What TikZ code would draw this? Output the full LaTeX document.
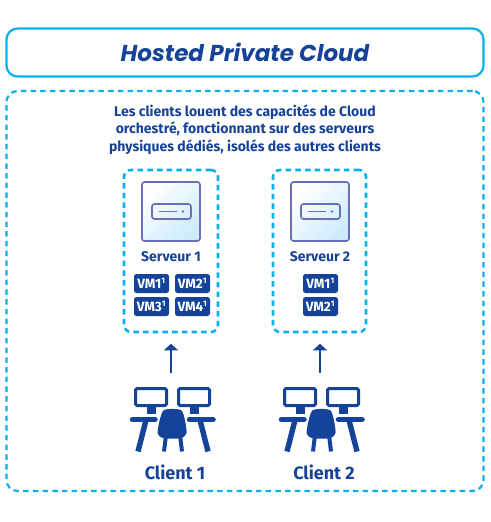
\documentclass[tikz,border=0pt]{standalone}
\usepackage{fontspec}
\setmainfont{Fira Sans}
\newfontfamily\titlefont{Poppins}
\usetikzlibrary{arrows.meta}
\definecolor{navy}{HTML}{16439A}
\definecolor{sky}{HTML}{08B0EE}
\definecolor{violet}{HTML}{6A70B8}
\definecolor{pale}{HTML}{CDEBFD}
\tikzset{
  dashbox/.style={draw=sky,line width=2.6pt,rounded corners=7pt,dash pattern=on 5.5pt off 4.2pt,inner sep=0pt},
  vm/.style={fill=navy,rounded corners=2.5pt,minimum width=35pt,minimum height=19pt,inner sep=0pt,text=white,font=\bfseries\fontsize{13.5}{13.5}\selectfont},
  label/.style={text=navy,font=\bfseries\fontsize{14}{14}\selectfont},
  clientlabel/.style={text=navy,font=\bfseries\fontsize{18}{18}\selectfont},
  flow/.style={draw=navy,line width=1.7pt,-{Triangle[length=6.5pt,width=14pt]}},
  unit/.style={draw=violet,line width=1.6pt,rounded corners=2.5pt},
  iconline/.style={draw=navy,line width=5.6pt,line cap=round},
  monitor/.style={draw=navy,line width=3pt,fill=white,rounded corners=1.5pt},
}
\newcommand{\vmlabel}[1]{VM#1\textsuperscript{\fontsize{8}{8}\selectfont 1}}
\newcommand{\servericon}[1]{%
  \begin{scope}[xshift=#1pt]
    \path[left color=white,right color=pale,shading angle=45,draw=violet,line width=1.6pt,rounded corners=2.5pt] (142,182) rectangle (200,241);
    \draw[unit] (152,204) rectangle (191,219);
    \draw[draw=violet,line width=1.6pt] (159,211.5) -- (177,211.5);
    \fill[violet] (183,211.5) circle (1.3);
  \end{scope}}
\newcommand{\clienticon}[1]{%
  \begin{scope}[xshift=#1pt]
    \foreach \x in {134,177}{
      \fill[navy] (\x+12.5,406) rectangle (\x+21.5,414);
      \draw[monitor] (\x+1.5,388.5) rectangle (\x+32.5,405.5);
    }
    \draw[iconline] (132.5,419.5) -- (155,419.5);
    \draw[iconline] (189.5,419.5) -- (213,419.5);
    \draw[navy,line width=5.4pt] (146,420) -- (138,451.5);
    \draw[navy,line width=5.4pt] (200,420) -- (208,451.5);
    \draw[navy,line width=4pt] (166,435) -- (164,451.5);
    \draw[navy,line width=4pt] (180,435) -- (182,451.5);
    \fill[navy] (164,410) .. controls (168,408.5) and (177,408.5) .. (181,410)
      .. controls (184,411) and (187,430) .. (186.5,433)
      .. controls (185,437) and (182,438.5) .. (178,438.5) -- (167,438.5)
      .. controls (162,438.5) and (159,437) .. (157.5,433)
      .. controls (157.5,429) and (161,411) .. (164,410) -- cycle;
  \end{scope}}
\begin{document}
\begin{tikzpicture}[x=1pt,y=-1pt]
\useasboundingbox (0,0) rectangle (490,522);
\fill[white] (0,0) rectangle (490,522);
\node[draw=sky,line width=2.2pt,rounded corners=11pt,minimum width=477pt,minimum height=48pt,inner sep=0pt] (title) at (245,52.5) {};
\node[text=navy,font=\titlefont\bfseries\itshape\fontsize{23}{23}\selectfont] (titletext) at (245,52) {Hosted Private Cloud};
\node[dashbox,line width=2.2pt,rounded corners=11pt,minimum width=477pt,minimum height=400pt] (outer) at (245,291) {};
\node[text=navy,align=center,font=\bfseries\fontsize{14}{17.6}\selectfont] (intro) at (245,129.5) {Les clients louent des capacités de Cloud\\orchestré, fonctionnant sur des serveurs\\physiques dédiés, isolés des autres clients};

\node[dashbox,minimum width=94pt,minimum height=162pt] (s1) at (171,251) {};
\node[dashbox,minimum width=93pt,minimum height=162pt] (s2) at (319.5,251) {};
\servericon{0}
\servericon{149}
\node[label] (s1t) at (171,256.5) {Serveur 1};
\node[label] (s2t) at (320,256.5) {Serveur 2};
\node[vm] (a1) at (151.5,283.5) {\vmlabel{1}};
\node[vm] (a2) at (192.5,283.5) {\vmlabel{2}};
\node[vm] (a3) at (151.5,306.5) {\vmlabel{3}};
\node[vm] (a4) at (192.5,306.5) {\vmlabel{4}};
\node[vm] (b1) at (320.5,283.5) {\vmlabel{1}};
\node[vm] (b2) at (320.5,306.5) {\vmlabel{2}};

\clienticon{0}
\clienticon{149}
\node[minimum width=84pt,minimum height=64pt,inner sep=0pt] (c1) at (171,419) {};
\node[minimum width=84pt,minimum height=64pt,inner sep=0pt] (c2) at (320,419) {};
\draw[flow,shorten <=14pt,shorten >=10.5pt] (c1.north) -- (s1.south);
\draw[flow,shorten <=14pt,shorten >=10.5pt] (c2.north) -- (c2.north |- s2.south);
\node[clientlabel] (c1t) at (175,472) {Client 1};
\node[clientlabel] (c2t) at (324,472) {Client 2};
\end{tikzpicture}
\end{document}
